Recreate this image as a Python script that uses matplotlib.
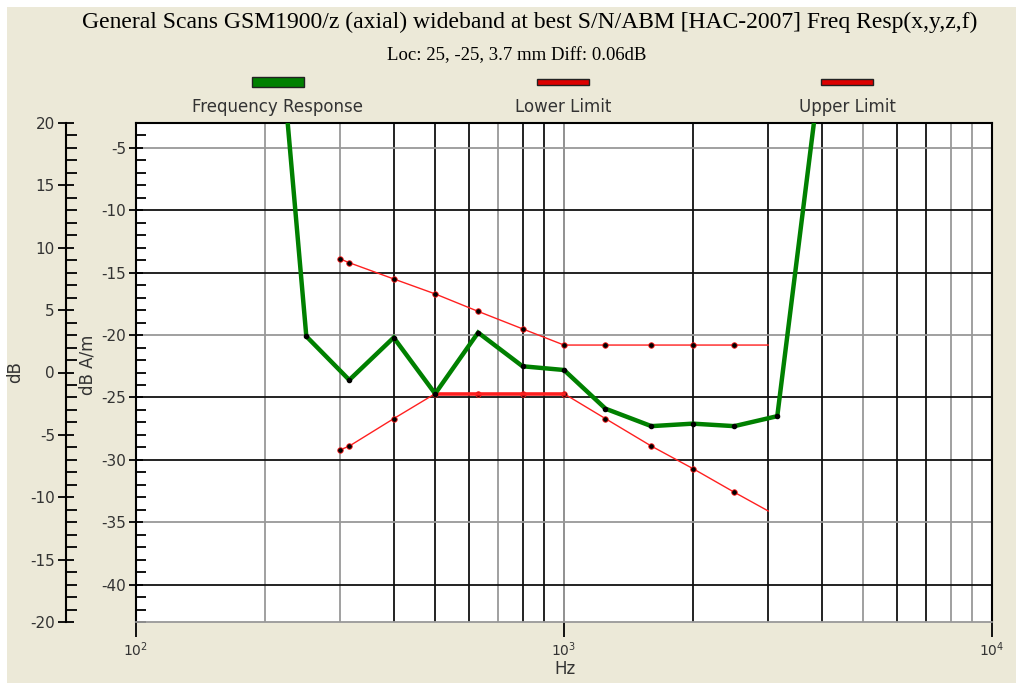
import matplotlib
matplotlib.use("Agg")
import matplotlib.pyplot as plt
from matplotlib.patches import Rectangle
from matplotlib.ticker import MultipleLocator, FixedLocator, NullFormatter

plt.rcParams["axes.unicode_minus"] = False

# frequency response (green) and HAC limits (red)
resp_hz = [200, 250, 315, 400, 500, 630, 800, 1000, 1250, 1600, 2000, 2500, 3150, 4000]
resp_db = [18.0, -20.1, -23.6, -20.2, -24.7, -19.8, -22.5, -22.8, -25.9, -27.3, -27.1, -27.3, -26.5, 2.0]

limit_hz = [300, 315, 400, 500, 630, 800, 1000, 1250, 1600, 2000, 2500, 3000]
upper_db = [-13.9, -14.2, -15.5, -16.7, -18.1, -19.5, -20.8, -20.8, -20.8, -20.8, -20.8, -20.8]
lower_db = [-29.2, -28.9, -26.7, -24.7, -24.7, -24.7, -24.7, -26.7, -28.9, -30.7, -32.6, -34.1]

legend_names = ["Frequency Response", "Lower Limit", "Upper Limit"]

W, H = 1016, 683
BG = "#ECE9D8"
GREEN = "#008000"
RED = "#FF2020"

fig = plt.figure(figsize=(W / 100, H / 100), dpi=100)
fig.patch.set_facecolor("white")
fig.patches.append(Rectangle((7 / W, 0), 1, 1 - 7 / H, transform=fig.transFigure,
                             facecolor=BG, edgecolor="none", zorder=-10))

def fx(px):
    return px / W

def fy(py):
    return 1 - py / H

left, right, top, bottom = 136, 992, 123, 622
ax = fig.add_axes([fx(left), fy(bottom), (right - left) / W, (bottom - top) / H])
ax.set_facecolor("white")
ax.set_xscale("log")
ax.set_xlim(100, 10000)
ax.set_ylim(-43, -3)

# grid, mimicking the mixed dark/grey lines of the screenshot
dark_v = {400, 500, 600, 800, 900, 2000, 3000, 4000, 6000, 7000}
for dec in (100, 1000):
    for m in range(2, 10):
        f = dec * m
        ax.axvline(f, color="#111111" if f in dark_v else "#999999", lw=1.3, zorder=1)
ax.axvline(1000, color="#888888", lw=1.3, zorder=1)
dark_h = {-10, -15, -25, -30, -40}
for v in range(-40, -4, 5):
    ax.axhline(v, color="#111111" if v in dark_h else "#999999", lw=1.3, zorder=1)

# curves
ax.plot(limit_hz, upper_db, color=RED, lw=1.0, marker="o", ms=4, mfc="black",
        mec=RED, mew=0.6, markevery=slice(0, -1), zorder=3)
ax.plot(limit_hz, lower_db, color=RED, lw=1.0, marker="o", ms=4, mfc="black",
        mec=RED, mew=0.6, markevery=slice(0, -1), zorder=3)
ax.plot(limit_hz[3:7], lower_db[3:7], color=RED, lw=2.6, zorder=3)
ax.plot(resp_hz, resp_db, color=GREEN, lw=3.2, zorder=4, solid_joinstyle="miter")
ax.plot(resp_hz, resp_db, ls="none", marker="o", ms=3, color="black", zorder=5)

# axes styling
for s in ("top", "right", "left"):
    ax.spines[s].set_color("black")
    ax.spines[s].set_linewidth(1.5)
ax.spines["bottom"].set_color("#999999")
ax.spines["bottom"].set_linewidth(1.3)

ax.yaxis.set_major_locator(FixedLocator(range(-40, -4, 5)))
ax.yaxis.set_minor_locator(MultipleLocator(1))
ax.tick_params(axis="y", which="major", direction="inout", length=10, width=1.3,
               labelsize=11, labelcolor="#333333", pad=2)
ax.tick_params(axis="y", which="minor", direction="in", length=7, width=1.3)
ax.xaxis.set_major_locator(FixedLocator([100, 1000, 10000]))
ax.xaxis.set_minor_formatter(NullFormatter())
ax.tick_params(axis="x", which="major", direction="out", length=11, width=1.3,
               labelsize=10, labelcolor="#333333", pad=2)
ax.tick_params(axis="x", which="minor", length=0)

# secondary dB scale on the far left
ax2 = fig.add_axes([fx(66), fy(bottom), 0.002, (bottom - top) / H])
ax2.patch.set_visible(False)
for s in ("top", "right", "bottom"):
    ax2.spines[s].set_visible(False)
ax2.spines["left"].set_linewidth(1.5)
ax2.set_ylim(-20, 20)
ax2.set_xticks([])
ax2.yaxis.set_major_locator(MultipleLocator(5))
ax2.yaxis.set_minor_locator(MultipleLocator(1))
ax2.tick_params(axis="y", which="major", direction="inout", length=12, width=1.3,
                labelsize=11, labelcolor="#333333", pad=2)
ax2.tick_params(axis="y", which="minor", direction="in", length=8, width=1.3)

# labels
fig.text(fx(15), fy(372), "dB", rotation=90, ha="center", va="center", fontsize=12, color="#333333")
fig.text(fx(87), fy(365), "dB A/m", rotation=90, ha="center", va="center", fontsize=12, color="#333333")
fig.text(fx(565), fy(669), "Hz", ha="center", va="center", fontsize=12, color="#333333")

fig.text(fx(530), fy(22), "General Scans GSM1900/z (axial) wideband at best S/N/ABM [HAC-2007] Freq Resp(x,y,z,f)",
         ha="center", va="center", fontsize=17, family="Liberation Serif")
fig.text(fx(517), fy(56), "Loc: 25, -25, 3.7 mm Diff: 0.06dB",
         ha="center", va="center", fontsize=13.5, family="Liberation Serif")

# legend: swatch above the label
legend_x = [278, 563, 847]
legend_col = [GREEN, "#DD0000", "#DD0000"]
legend_h = [9, 6, 6]
for name, cx, col, hh in zip(legend_names, legend_x, legend_col, legend_h):
    fig.patches.append(Rectangle((fx(cx - 26), fy(82 + hh / 2)), 52 / W, hh / H,
                                 transform=fig.transFigure, facecolor=col,
                                 edgecolor="#222222", lw=1.0))
    fig.text(fx(cx), fy(107), name, ha="center", va="center", fontsize=12, color="#333333")

fig.savefig("out.png", dpi=100, facecolor=fig.get_facecolor())
